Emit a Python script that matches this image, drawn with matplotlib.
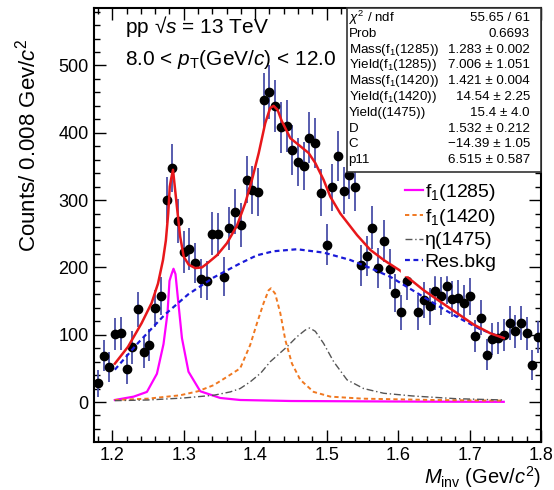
import numpy as np
import matplotlib
matplotlib.use("Agg")
import matplotlib.pyplot as plt
from matplotlib.patches import Rectangle
from matplotlib.ticker import MultipleLocator

plt.rcParams['font.family'] = ['Liberation Sans', 'DejaVu Sans']
plt.rcParams['mathtext.fontset'] = 'custom'
plt.rcParams['mathtext.rm'] = 'Liberation Sans'
plt.rcParams['mathtext.it'] = 'Liberation Sans:italic'
plt.rcParams['mathtext.bf'] = 'Liberation Sans:bold'

# histogram: bin centres (bin width 0.008 GeV/c^2), counts and errors
mass = np.round(1.180 + 0.008 * np.arange(78), 3)
counts = [28, 69, 52, 101, 102, 49, 81, 138, 74, 85,
          139, 158, 300, 348, 269, 223, 227, 207, 183, 180,
          250, 249, 186, 258, 283, 263, 330, 315, 312, 449,
          461, 440, 408, 410, 374, 357, 351, 393, 385, 311,
          234, 319, 366, 314, 338, 319, 203, 217, 259, 199,
          239, 198, 162, 133, 180, 225, 133, 152, 142, 165,
          158, 173, 153, 154, 147, 157, 98, 125, 70, 94,
          95, 100, 117, 105, 117, 102, 55, 97]
errors = [20, 23, 22, 24, 24, 22, 24, 26, 23, 24,
          27, 28, 34, 36, 33, 31, 31, 30, 29, 29,
          32, 32, 29, 32, 33, 33, 35, 35, 35, 40,
          40, 39, 38, 38, 37, 36, 36, 38, 37, 35,
          31, 35, 37, 35, 36, 35, 30, 30, 32, 30,
          31, 30, 28, 26, 29, 31, 26, 27, 27, 28,
          28, 28, 27, 27, 27, 27, 24, 26, 23, 24,
          24, 24, 25, 25, 25, 24, 22, 24]

# total fit
fit_x = [1.2036, 1.222, 1.241, 1.255, 1.264, 1.271, 1.275, 1.2783, 1.2805, 1.2825,
         1.285, 1.2875, 1.2905, 1.295, 1.300, 1.307, 1.316, 1.3255, 1.333, 1.3465,
         1.3605, 1.3745, 1.386, 1.3955, 1.405, 1.414, 1.421, 1.4258, 1.4314, 1.437,
         1.4492, 1.4632, 1.4748, 1.4842, 1.4958, 1.5052, 1.5192, 1.5426, 1.5612, 1.5799,
         1.6032, 1.6149, 1.6359, 1.6592, 1.6826, 1.7059, 1.7293, 1.7479]
fit_y = [57, 82, 117, 147, 176, 211, 240, 280, 320, 332,
         345, 320, 290, 246, 216, 204, 199, 200, 206, 218,
         236, 262, 295, 330, 370, 414, 437, 440, 434, 418,
         392, 380, 370, 355, 330, 305, 280, 248, 226, 211,
         195, 184, 166, 149, 132, 115, 102, 95]

# components
f1285_x = [1.2036, 1.230, 1.2485, 1.2625, 1.2717, 1.2773, 1.2801, 1.2830, 1.2857, 1.2885,
           1.2913, 1.2975, 1.3067, 1.3231, 1.3511, 1.379, 1.45, 1.55, 1.65, 1.7479]
f1285_y = [3, 8, 15, 42, 86, 132, 180, 190, 198, 190,
           160, 95, 45, 16, 6, 3, 1.5, 1, 0.5, 0.3]
f1420_x = [1.2036, 1.25, 1.295, 1.32, 1.3418, 1.36, 1.379, 1.3931, 1.4025, 1.4118,
           1.4188, 1.4221, 1.428, 1.4352, 1.4422, 1.4515, 1.4632, 1.4818, 1.5052, 1.55,
           1.65, 1.7479]
f1420_y = [3, 5, 10, 16, 25, 37, 50, 85, 117, 147,
           166, 169, 161, 132, 92, 57, 33, 15, 8, 5,
           3, 2]
eta_x = [1.2036, 1.25, 1.30, 1.3418, 1.3651, 1.379, 1.3931, 1.4078, 1.4212, 1.4445,
         1.4585, 1.4702, 1.4762, 1.4842, 1.4958, 1.5098, 1.5285, 1.5518, 1.5799, 1.62,
         1.68, 1.7479]
eta_y = [2, 3, 6, 10, 15, 20, 30, 43, 60, 82,
         97, 107, 110, 105, 87, 60, 33, 20, 13, 9,
         5, 3]
bkg_x = [1.2036, 1.2363, 1.2737, 1.3063, 1.3418, 1.379, 1.4025, 1.4258, 1.4585, 1.4958,
         1.5332, 1.5612, 1.5892, 1.6032, 1.6219, 1.6452, 1.6686, 1.6919, 1.7153, 1.7479]
bkg_y = [48, 88, 130, 160, 185, 206, 218, 224, 227, 222,
         211, 199, 186, 177, 165, 150, 135, 121, 108, 95]

stat_names = [r"$\chi^2$ / ndf", "Prob", r"Mass(f$_1$(1285))", r"Yield(f$_1$(1285))",
              r"Mass(f$_1$(1420))", r"Yield(f$_1$(1420))", "Yield((1475))", "D", "C", "p11"]
stat_values = ["55.65 / 61", "0.6693", "1.283 \u00b1 0.002", "7.006 \u00b1 1.051",
               "1.421 \u00b1 0.004", "14.54 \u00b1 2.25", "15.4 \u00b1 4.0",
               "1.532 \u00b1 0.212", "\u221214.39 \u00b1 1.05", "6.515 \u00b1 0.587"]

fig = plt.figure(figsize=(5.54, 4.90), dpi=100)
ax = fig.add_axes([0.1704, 0.0988, 0.8061, 0.8843])

ax.errorbar(mass, counts, yerr=errors, fmt='none', ecolor='#4a4fa8', elinewidth=1.3, zorder=2)
ax.plot(mass, counts, 'o', color='black', markersize=6, zorder=3)

ax.plot(fit_x, fit_y, color='#e8171b', lw=1.8, zorder=5)
ax.plot(f1285_x, f1285_y, color='#ff00ff', lw=1.6, zorder=4, label=r"f$_1$(1285)")
ax.plot(f1420_x, f1420_y, color='#f07820', lw=1.4, ls=(0, (2.2, 1.6)), zorder=4,
        label=r"f$_1$(1420)")
ax.plot(eta_x, eta_y, color='#555555', lw=1.0, ls=(0, (5, 2, 1, 2)), zorder=4,
        label="\u03b7(1475)")
ax.plot(bkg_x, bkg_y, color='#1a1ad8', lw=1.6, ls=(0, (2.2, 1.6)), zorder=4, label="Res.bkg")

ax.set_xlim(1.175, 1.8)
ax.set_ylim(-58.8, 585)
ax.xaxis.set_major_locator(MultipleLocator(0.1))
ax.xaxis.set_minor_locator(MultipleLocator(0.02))
ax.yaxis.set_major_locator(MultipleLocator(100))
ax.yaxis.set_minor_locator(MultipleLocator(20))
ax.tick_params(which='both', direction='in', top=True, right=True, labelsize=13, width=1)
ax.tick_params(which='major', length=8.5)
ax.tick_params(which='minor', length=4.3)
ax.tick_params(axis='x', pad=4)
ax.tick_params(axis='y', pad=4)
for s in ax.spines.values():
    s.set_linewidth(1.5)

ax.text(-0.149, 0.93, r"Counts/ 0.008 Gev/$c^2$", transform=ax.transAxes, rotation=90,
        ha='center', va='top', fontsize=16)
ax.text(1.0, -0.052, r"$M_{\rm inv}$ (Gev/$c^2$)", transform=ax.transAxes,
        ha='right', va='top', fontsize=14.5)

ax.text(0.068, 0.957, "pp \u221a$s$ = 13 TeV", transform=ax.transAxes,
        ha='left', va='center', fontsize=15)
ax.text(0.068, 0.881, r"8.0 < $p_{\rm T}$(GeV/$c$) < 12.0", transform=ax.transAxes,
        ha='left', va='center', fontsize=15)

# stats box
ax.add_patch(Rectangle((0.5656, 0.6222), 0.4344, 0.3778, transform=ax.transAxes,
                       facecolor='white', edgecolor='#333333', lw=1.2, zorder=10,
                       clip_on=False))
for i, (name, val) in enumerate(zip(stat_names, stat_values)):
    yy = 0.9776 - 0.03646 * i
    ax.text(0.569, yy, name, transform=ax.transAxes, ha='left', va='center',
            fontsize=9.6, zorder=11)
    ax.text(0.9754, yy, val, transform=ax.transAxes, ha='right', va='center',
            fontsize=9.6, zorder=11)

leg = ax.legend(loc='upper left', bbox_to_anchor=(0.687, 0.608), fontsize=14,
                frameon=True, fancybox=False, edgecolor='white', framealpha=1,
                handlelength=0.9, handletextpad=0.1, labelspacing=0.2,
                borderpad=0.2, borderaxespad=0)
leg.set_zorder(12)

fig.savefig("out.png", dpi=100)
